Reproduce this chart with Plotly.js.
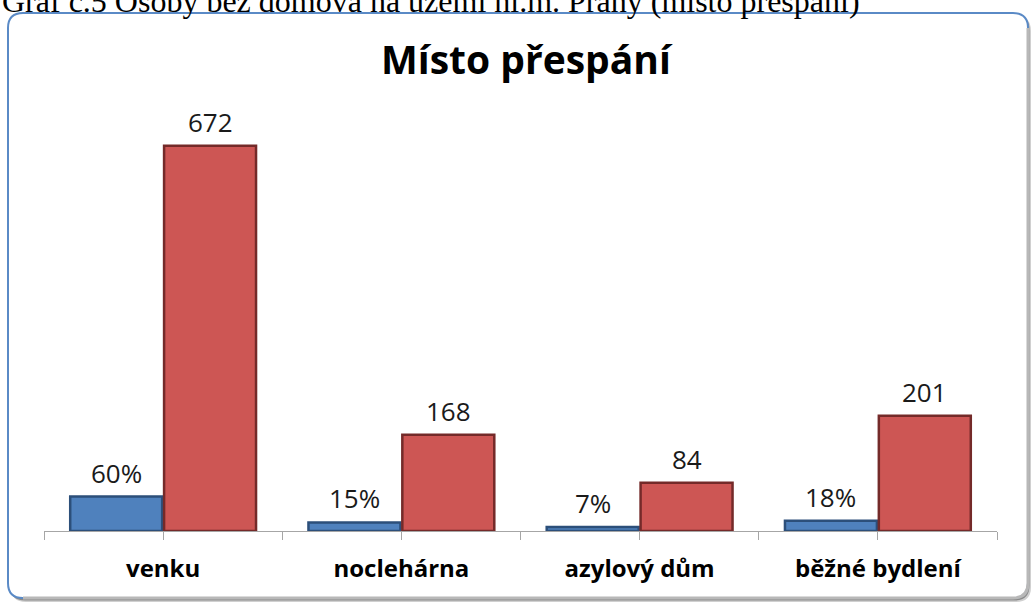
<!DOCTYPE html>
<html>
<head>
<meta charset="utf-8">
<script src="https://cdn.plot.ly/plotly-3.0.1.min.js"></script>
<style>html,body{margin:0;padding:0;background:#fff;}#chart{width:1033px;height:606px;}</style>
</head>
<body>
<div id="chart"></div>
<script>
// ---- data ----
const categories = ['venku', 'noclehárna', 'azylový dům', 'běžné bydlení'];
const percentValues = [60, 15, 7, 18];
const percentLabels = ['60%', '15%', '7%', '18%'];
const countValues = [672, 168, 84, 201];
const chartTitle = 'Místo přespání';
const captionText = 'Graf č.5 Osoby bez domova na území hl.m. Prahy (místo přespání)';

// ---- geometry / style ----
const W = 1033, H = 606;
const M = {l: 44, r: 36, t: 101, b: 75};
const PW = W - M.l - M.r, PH = H - M.t - M.b;
const px = x => (x - M.l) / PW;           // pixel -> paper x
const py = y => (H - M.b - y) / PH;       // pixel -> paper y
const barW = 0.386;
const blueOff = -0.39, redOff = 0.004;

const xs = categories.map((_, i) => i);

const blue = {
  type: 'bar', x: xs, y: percentValues, width: barW, offset: blueOff,
  marker: {color: '#4f81bd', line: {color: '#2c4f7a', width: 2.5}},
  hoverinfo: 'skip', showlegend: false
};
const red = {
  type: 'bar', x: xs, y: countValues, width: barW, offset: redOff,
  marker: {color: '#cd5654', line: {color: '#742a29', width: 2.5}},
  hoverinfo: 'skip', showlegend: false
};

const valueFont = {family: 'Open Sans, sans-serif', size: 26, color: '#1a1a1a'};
const annotations = [];
xs.forEach((x, i) => {
  annotations.push({x: x + blueOff + barW / 2, y: percentValues[i], xref: 'x', yref: 'y',
    text: percentLabels[i], showarrow: false, yanchor: 'middle', yshift: 24, font: valueFont});
  annotations.push({x: x + redOff + barW / 2, y: countValues[i], xref: 'x', yref: 'y',
    text: String(countValues[i]), showarrow: false, yanchor: 'middle', yshift: 24, font: valueFont});
});
annotations.push({xref: 'paper', yref: 'paper', x: px(0), y: py(21), xanchor: 'left', yanchor: 'bottom',
  text: captionText, showarrow: false, font: {family: 'Liberation Serif, Times New Roman, serif', size: 32, color: '#000'}});
annotations.push({xref: 'paper', yref: 'paper', x: px(527), y: py(59), xanchor: 'center', yanchor: 'middle',
  text: '<b>' + chartTitle + '</b>', showarrow: false, font: {family: 'Open Sans, sans-serif', size: 39, color: '#000'}});

// tick positions at category centres and boundaries
const tickvals = [], ticktext = [];
xs.forEach((x, i) => {
  tickvals.push(x - 0.5, x); ticktext.push('', '<b>' + categories[i] + '</b>');
});
tickvals.push(xs.length - 0.5); ticktext.push('');

// frame
const L = 8, T = 13, R = 1028, B = 600, rad = 15;
const X = v => px(v), Y = v => py(v);
function rr(l, t, r, b, k) {
  return `M ${X(l + k)} ${Y(t)} L ${X(r - k)} ${Y(t)} Q ${X(r)} ${Y(t)} ${X(r)} ${Y(t + k)} L ${X(r)} ${Y(b - k)} Q ${X(r)} ${Y(b)} ${X(r - k)} ${Y(b)} L ${X(l + k)} ${Y(b)} Q ${X(l)} ${Y(b)} ${X(l)} ${Y(b - k)} L ${X(l)} ${Y(t + k)} Q ${X(l)} ${Y(t)} ${X(l + k)} ${Y(t)} Z`;
}
const shapes = [
  {type: 'path', xref: 'paper', yref: 'paper', path: rr(L + 3, T + 3, R + 3, B + 2, rad), fillcolor: '#d0d0d0', line: {width: 0}, layer: 'below'},
  {type: 'path', xref: 'paper', yref: 'paper', path: rr(L + 2, T + 2, R + 1.5, B + 0.5, rad), fillcolor: '#8a8a8a', line: {width: 0}, layer: 'below'},
  {type: 'path', xref: 'paper', yref: 'paper', path: rr(L, T, R, B - 2, rad), fillcolor: '#ffffff', line: {color: '#5a8ac6', width: 2}, layer: 'below'},
  {type: 'path', xref: 'paper', yref: 'paper',
   path: `M ${X(R)} ${Y(T + rad)} L ${X(R)} ${Y(B - 2 - rad)} Q ${X(R)} ${Y(B - 2)} ${X(R - rad)} ${Y(B - 2)} L ${X(L + rad)} ${Y(B - 2)}`,
   line: {color: '#b8b8b8', width: 3}, layer: 'below'}
];

const layout = {
  width: W, height: H, margin: M,
  paper_bgcolor: '#ffffff', plot_bgcolor: 'rgba(0,0,0,0)',
  font: {family: 'Open Sans, sans-serif'},
  barmode: 'group',
  xaxis: {
    range: [-0.5, xs.length - 0.5], tickmode: 'array', tickvals, ticktext,
    ticks: 'outside', ticklen: 8, tickcolor: '#a6a6a6', tickwidth: 1,
    showline: true, linecolor: '#a6a6a6', linewidth: 1, showgrid: false, zeroline: false,
    tickfont: {family: 'Open Sans, sans-serif', size: 24, color: '#000'},
    ticklabelstandoff: 8, fixedrange: true
  },
  yaxis: {range: [0, 750], visible: false, showgrid: false, zeroline: false, fixedrange: true},
  annotations, shapes
};

Plotly.newPlot('chart', [blue, red], layout, {displayModeBar: false, staticPlot: true});
</script>
</body>
</html>
